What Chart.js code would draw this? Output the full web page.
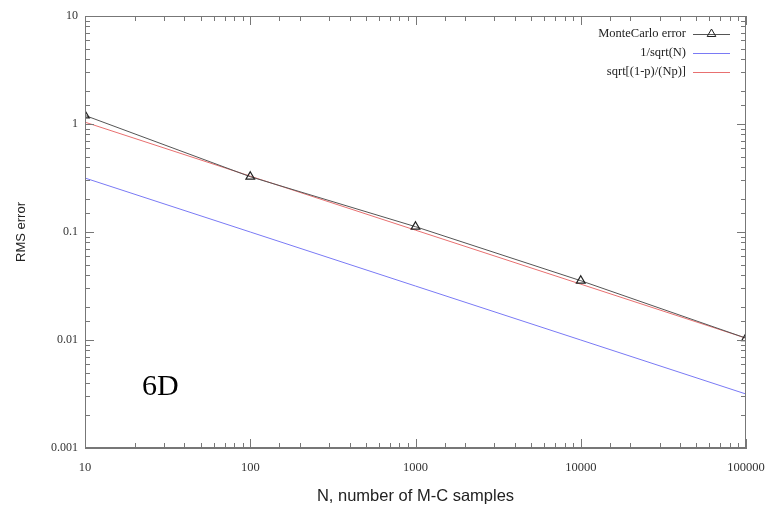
<!DOCTYPE html>
<html>
<head>
<meta charset="utf-8">
<script src="https://cdn.jsdelivr.net/npm/chart.js@4/dist/chart.umd.min.js"></script>
<style>
  html, body { margin: 0; padding: 0; background: #fff; }
  #wrap { width: 768px; height: 507px; }
</style>
</head>
<body>
<div id="wrap"><canvas id="rmsChart" width="768" height="507"></canvas></div>
<script>
// data
var samples = [10, 100, 1000, 10000, 100000];
var mcError = [1.2, 0.325, 0.112, 0.0354, 0.0104];
var invSqrt = [0.316, 0.1, 0.0316, 0.01, 0.00316];
var binomErr = [1.04, 0.329, 0.104, 0.0329, 0.0104];

var seriesNames = ["MonteCarlo error", "1/sqrt(N)", "sqrt[(1-p)/(Np)]"];
var seriesColors = ["#555555", "#7a7af5", "#e87070"];
var decadeLabelsX = ["10", "100", "1000", "10000", "100000"];
var decadeLabelsY = ["0.001", "0.01", "0.1", "1", "10"];

function toPoints(ys) {
  return samples.map(function (x, i) { return { x: x, y: ys[i] }; });
}

function isDecade(v) {
  var l = Math.log10(v);
  return Math.abs(l - Math.round(l)) < 1e-9;
}

function decadeLabel(v, list) {
  var s = String(+v.toPrecision(6));
  return (isDecade(v) && list.indexOf(s) >= 0) ? s : '';
}

// inward ticks, border box, legend and the 6D note
var frame = {
  id: 'frame',
  afterDraw: function (chart) {
    var ctx = chart.ctx, a = chart.chartArea;
    var xs = chart.scales.x, ys = chart.scales.y;
    ctx.save();
    ctx.strokeStyle = '#777';
    ctx.lineWidth = 1;
    ctx.strokeRect(a.left + 0.5, a.top + 0.5, a.right - a.left - 1, a.bottom - a.top - 1);

    ctx.beginPath();
    xs.ticks.forEach(function (t) {
      var px = Math.round(xs.getPixelForValue(t.value)) + 0.5;
      var len = isDecade(t.value) ? 9 : 5;
      ctx.moveTo(px, a.bottom); ctx.lineTo(px, a.bottom - len);
      ctx.moveTo(px, a.top); ctx.lineTo(px, a.top + len);
    });
    ys.ticks.forEach(function (t) {
      var py = Math.round(ys.getPixelForValue(t.value)) + 0.5;
      var len = isDecade(t.value) ? 9 : 5;
      ctx.moveTo(a.left, py); ctx.lineTo(a.left + len, py);
      ctx.moveTo(a.right, py); ctx.lineTo(a.right - len, py);
    });
    ctx.stroke();

    // legend
    ctx.font = '12.5px "Liberation Serif", serif';
    ctx.textAlign = 'right';
    ctx.textBaseline = 'middle';
    var textRight = a.right - 60, lineL = a.right - 53, lineR = a.right - 16;
    seriesNames.forEach(function (name, i) {
      var y = a.top + 18 + i * 19;
      ctx.fillStyle = '#222';
      ctx.fillText(name, textRight, y);
      ctx.strokeStyle = seriesColors[i];
      ctx.beginPath();
      ctx.moveTo(lineL, y + 0.5); ctx.lineTo(lineR, y + 0.5);
      ctx.stroke();
      if (i === 0) {
        var cx = (lineL + lineR) / 2, r = 5;
        ctx.strokeStyle = '#222';
        ctx.beginPath();
        ctx.moveTo(cx, y - r);
        ctx.lineTo(cx + r * 0.866, y + r / 2);
        ctx.lineTo(cx - r * 0.866, y + r / 2);
        ctx.closePath();
        ctx.stroke();
      }
    });

    ctx.font = '30px "Liberation Serif", serif';
    ctx.textAlign = 'left';
    ctx.textBaseline = 'alphabetic';
    ctx.fillStyle = '#000';
    ctx.fillText('6D', a.left + 57, a.bottom - 53);
    ctx.restore();
  }
};

new Chart("rmsChart", {
  type: "line",
  data: {
    datasets: [{
      label: seriesNames[0],
      data: toPoints(mcError),
      borderColor: seriesColors[0],
      borderWidth: 1,
      pointStyle: 'triangle',
      pointRadius: 5,
      pointBorderColor: '#222',
      pointBackgroundColor: 'rgba(255,255,255,0)',
      pointBorderWidth: 1.2
    }, {
      label: seriesNames[1],
      data: toPoints(invSqrt),
      borderColor: seriesColors[1],
      borderWidth: 1,
      pointRadius: 0
    }, {
      label: seriesNames[2],
      data: toPoints(binomErr),
      borderColor: seriesColors[2],
      borderWidth: 1,
      pointRadius: 0
    }]
  },
  options: {
    responsive: false,
    animation: false,
    layout: { padding: { top: 16, right: 22, left: 0, bottom: 0 } },
    plugins: {
      legend: { display: false },
      tooltip: { enabled: false }
    },
    scales: {
      x: {
        type: 'logarithmic',
        min: 10,
        max: 100000,
        grid: { display: false, drawTicks: false },
        border: { display: true, color: '#777' },
        ticks: {
          autoSkip: false,
          maxRotation: 0,
          padding: 12,
          color: '#333',
          font: { family: '"Liberation Serif", serif', size: 12.5 },
          callback: function (v) { return decadeLabel(v, decadeLabelsX); }
        },
        title: {
          display: true,
          text: 'N, number of M-C samples',
          color: '#222',
          font: { family: '"Liberation Sans", sans-serif', size: 16.5 },
          padding: { top: 0, bottom: 1 }
        },
        afterFit: function (s) { s.height = 59; s.paddingLeft = 0; s.paddingRight = 0; }
      },
      y: {
        type: 'logarithmic',
        min: 0.001,
        max: 10,
        grid: { display: false, drawTicks: false },
        border: { display: true, color: '#777' },
        ticks: {
          autoSkip: false,
          padding: 7,
          color: '#333',
          font: { family: '"Liberation Serif", serif', size: 12 },
          callback: function (v) { return decadeLabel(v, decadeLabelsY); }
        },
        title: {
          display: true,
          text: 'RMS error',
          color: '#222',
          font: { family: '"Liberation Sans", sans-serif', size: 13 },
          padding: { top: 14, bottom: 0 }
        },
        afterFit: function (s) { s.width = 85; s.paddingTop = 0; s.paddingBottom = 0; }
      }
    }
  },
  plugins: [frame]
});
</script>
</body>
</html>
